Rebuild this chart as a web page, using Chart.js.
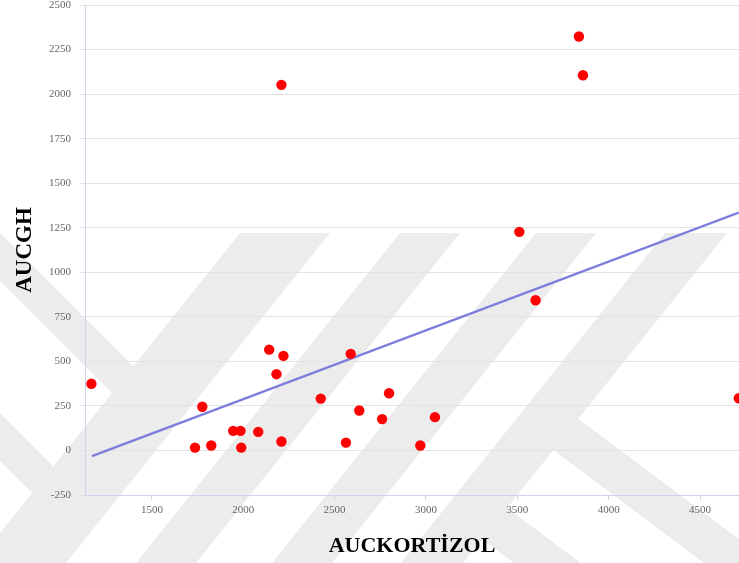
<!DOCTYPE html>
<html>
<head>
<meta charset="utf-8">
<script src="https://cdn.jsdelivr.net/npm/chart.js@4/dist/chart.umd.min.js"></script>
<style>
  html, body { margin: 0; padding: 0; background: #ffffff; overflow: hidden; }
  #wrap { width: 739px; height: 563px; }
</style>
</head>
<body>
<div id="wrap"><canvas id="c" width="739" height="563"></canvas></div>
<script>
// AUC values: cortisol (x) against growth hormone (y)
const cortisolAUC = [1169, 1776, 1736, 1825, 1945, 1985, 1989, 2082, 2142, 2220, 2182, 2209, 2209,
                     2424, 2562, 2588, 2635, 2798, 2760, 3049, 2969, 3511, 3600, 4712, 3837, 3859];
const ghAUC       = [374, 245, 16, 28, 110, 110, 16, 104, 566, 531, 428, 50, 2052,
                     291, 44, 542, 224, 321, 176, 187, 28, 1227, 843, 293, 2323, 2106];

// fitted trend line end points
const trendX = [1172, 4712];
const trendY = [-32, 1335];

// axis ranges and tick values
const xRange = [1134, 4713];
const xTickValues = [1500, 2000, 2500, 3000, 3500, 4000, 4500];
const yRange = [-250, 2500];
const yTickValues = [-250, 0, 250, 500, 750, 1000, 1250, 1500, 1750, 2000, 2250, 2500];

const xTitle = 'AUCKORTİZOL';
const yTitle = 'AUCGH';

const points = cortisolAUC.map((x, i) => ({ x: x, y: ghAUC[i] }));
const trend = trendX.map((x, i) => ({ x: x, y: trendY[i] }));

// light grey institutional watermark behind the plot
const WM_COLOR = '#ececec';
const slashBands = [[240, 330], [400, 460], [536, 596], [665, 727]];   // "/" strokes, top edge at y=233
const leftArms = [[233, 281, 160], [413, 461, 60]];                       // "\" strokes meeting the first slash
const rightLegs = [[560, 405, 455, 548, 760], [470, 480, 530, 476, 640]]; // "\" legs of the K
const watermark = {
  id: 'watermark',
  beforeDraw(chart) {
    const ctx = chart.ctx;
    ctx.save();
    ctx.fillStyle = WM_COLOR;
    const topY = 233, botY = 600, k = 0.8;
    slashBands.forEach(([a, b]) => {
      ctx.beginPath();
      ctx.moveTo(a, topY);
      ctx.lineTo(b, topY);
      ctx.lineTo(b - k * (botY - topY), botY);
      ctx.lineTo(a - k * (botY - topY), botY);
      ctx.closePath();
      ctx.fill();
    });
    leftArms.forEach(([u, l, xe]) => {
      ctx.beginPath();
      ctx.moveTo(-10, u - 10);
      ctx.lineTo(xe, u + xe);
      ctx.lineTo(xe, l + xe);
      ctx.lineTo(-10, l - 10);
      ctx.closePath();
      ctx.fill();
    });
    rightLegs.forEach(([x0, u, l, xa, xb]) => {
      const s = 0.75;
      ctx.beginPath();
      ctx.moveTo(xa, u + (xa - x0) * s);
      ctx.lineTo(xb, u + (xb - x0) * s);
      ctx.lineTo(xb, l + (xb - x0) * s);
      ctx.lineTo(xa, l + (xa - x0) * s);
      ctx.closePath();
      ctx.fill();
    });
    ctx.restore();
  }
};

const tickFont = { family: '"Liberation Serif", "Times New Roman", serif', size: 11 };
const titleFont = { family: '"Liberation Serif", "Times New Roman", serif', weight: 'bold' };
const plain = (v) => String(v);

new Chart(document.getElementById('c'), {
  type: 'scatter',
  data: {
    datasets: [
      {
        label: 'AUCGH',
        data: points,
        backgroundColor: '#ff0000',
        borderColor: '#ff0000',
        pointRadius: 5.2,
        pointHoverRadius: 5.2,
        borderWidth: 0,
        order: 1
      },
      {
        type: 'line',
        label: 'trend',
        data: trend,
        borderColor: '#7c7ddc',
        borderWidth: 2.4,
        pointRadius: 0,
        fill: false,
        order: 2
      }
    ]
  },
  plugins: [watermark],
  options: {
    responsive: false,
    devicePixelRatio: 1,
    animation: false,
    layout: { autoPadding: false, padding: { top: 5, right: 0, bottom: 0, left: 0 } },
    plugins: { legend: { display: false }, tooltip: { enabled: false } },
    scales: {
      x: {
        type: 'linear',
        min: xRange[0],
        max: xRange[1],
        afterBuildTicks(scale) { scale.ticks = xTickValues.map(v => ({ value: v })); },
        ticks: { color: '#666666', font: tickFont, padding: 4, maxRotation: 0, autoSkip: false, callback: plain },
        grid: { drawOnChartArea: false, drawTicks: true, tickLength: 5, tickColor: '#ccd6eb', color: '#ccd6eb' },
        border: { color: '#ccd6eb', width: 1 },
        title: { display: true, text: xTitle, color: '#000000', font: { ...titleFont, size: 22 }, padding: { top: 0, bottom: 3 } },
        afterFit(scale) { scale.height = 68; scale.paddingLeft = 0; scale.paddingRight = 0; }
      },
      y: {
        type: 'linear',
        min: yRange[0],
        max: yRange[1],
        afterBuildTicks(scale) { scale.ticks = yTickValues.map(v => ({ value: v })); },
        ticks: { color: '#666666', font: tickFont, padding: 9, autoSkip: false, callback: plain },
        grid: { color: '#e3e3e3', lineWidth: 1, tickLength: 5, tickColor: '#e3e3e3' },
        border: { color: '#ccd6eb', width: 1 },
        title: { display: true, text: yTitle, color: '#000000', font: { ...titleFont, size: 23 }, padding: { top: 11, bottom: 0 } },
        afterFit(scale) { scale.width = 85; scale.paddingTop = 0; scale.paddingBottom = 0; }
      }
    }
  }
});
</script>
</body>
</html>
